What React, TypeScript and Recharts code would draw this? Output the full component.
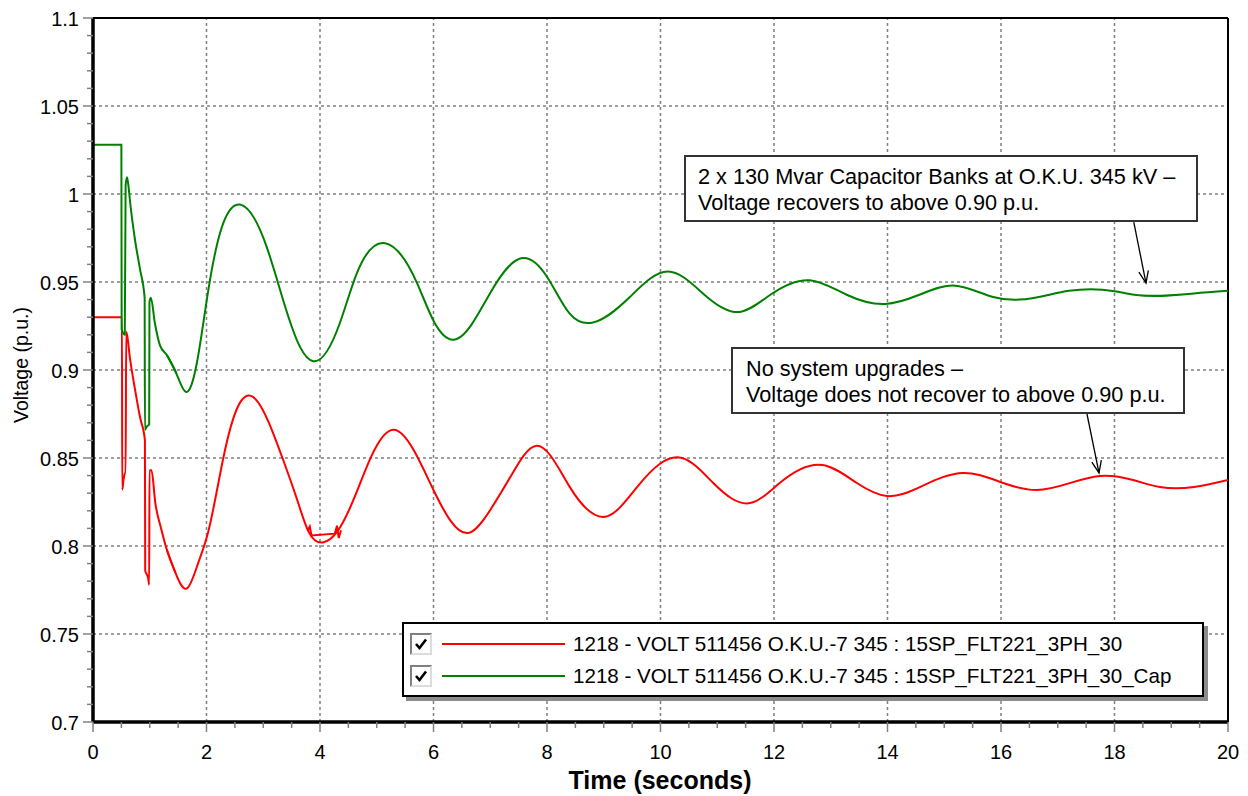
import React from "react";
import { LineChart, Line, XAxis, YAxis, ReferenceLine } from "recharts";

// time (s) / voltage (p.u.)
// no upgrades case: fault transient, then the swing, plus two small wiggles near 4 s
const baseFaultTime = [0, 0.51, 0.515, 0.54, 0.565, 0.575, 0.585, 0.6, 0.65, 0.74, 0.83, 0.915, 0.92, 0.97, 0.99, 0.995, 1.03, 1.1, 1.2, 1.3, 1.45];
const baseFaultVolt = [0.93, 0.93, 0.832, 0.838, 0.8415, 0.8415, 0.9216, 0.92, 0.907, 0.889, 0.873, 0.86, 0.786, 0.782, 0.778, 0.843, 0.843, 0.824, 0.81, 0.798, 0.785];
const baseSwingTime = [1.3, 1.45, 1.66, 1.85, 2.03, 2.3, 2.55, 2.82, 3.1, 3.35, 3.6, 3.8, 4.05, 4.3, 4.6, 4.9, 5.29, 5.65, 6.0, 6.61, 7.0, 7.35, 7.82, 8.4, 9.07, 9.59, 10.38, 10.93, 11.58, 12.1, 12.86, 13.46, 13.99, 14.57, 15.33, 16.04, 16.63, 17.74, 18.33, 18.8, 19.4, 20];
const baseSwingVolt = [0.798, 0.785, 0.776, 0.79, 0.808, 0.8506, 0.879, 0.8847, 0.87, 0.849, 0.826, 0.808, 0.802, 0.808, 0.827, 0.8506, 0.866, 0.8545, 0.8318, 0.8074, 0.8205, 0.839, 0.857, 0.8336, 0.817, 0.8336, 0.85, 0.8358, 0.8244, 0.8358, 0.846, 0.8358, 0.8284, 0.8335, 0.8415, 0.8358, 0.8318, 0.8398, 0.8375, 0.8335, 0.8335, 0.8375];
const baseWiggleTime = [3.78, 3.82, 3.85, 4.26, 4.3, 4.33, 4.37];
const baseWiggleVolt = [0.8085, 0.811, 0.806, 0.807, 0.8115, 0.8045, 0.809];

// 2 x 130 Mvar capacitor case
const capFaultTime = [0, 0.5, 0.505, 0.56, 0.575, 0.6, 0.63, 0.65, 0.74, 0.83, 0.91, 0.915, 0.95, 0.99, 0.995, 1.02, 1.09, 1.18, 1.3, 1.47];
const capFaultVolt = [1.028, 1.028, 0.923, 0.92, 1.005, 1.0095, 1.003, 0.9966, 0.974, 0.957, 0.941, 0.866, 0.868, 0.869, 0.9386, 0.941, 0.9267, 0.914, 0.9085, 0.898];
const capSwingTime = [1.3, 1.47, 1.64, 1.83, 2.03, 2.24, 2.59, 3.06, 3.35, 3.65, 3.88, 4.35, 4.65, 5.15, 5.71, 6.0, 6.41, 7.0, 7.56, 8.0, 8.4, 8.81, 9.46, 10.13, 10.82, 11.4, 11.93, 12.63, 13.29, 13.96, 14.55, 15.15, 15.86, 16.33, 17.2, 18.0, 18.35, 19.4, 20];
const capSwingVolt = [0.9085, 0.898, 0.8875, 0.904, 0.945, 0.978, 0.994, 0.97, 0.9398, 0.913, 0.905, 0.9267, 0.955, 0.972, 0.9494, 0.928, 0.9176, 0.9438, 0.9636, 0.953, 0.932, 0.927, 0.9415, 0.956, 0.9415, 0.933, 0.9426, 0.951, 0.9426, 0.9375, 0.9426, 0.948, 0.9415, 0.94, 0.945, 0.9448, 0.9428, 0.9435, 0.945];

const xMajor = [0, 2, 4, 6, 8, 10, 12, 14, 16, 18, 20];
const yMajor = [0.7, 0.75, 0.8, 0.85, 0.9, 0.95, 1, 1.05, 1.1];

const seriesNames = [
  "1218 - VOLT 511456 O.K.U.-7 345 : 15SP_FLT221_3PH_30",
  "1218 - VOLT 511456 O.K.U.-7 345 : 15SP_FLT221_3PH_30_Cap",
];
const seriesColors = ["#ff0000", "#008000"];

const noteCap = ["2 x 130 Mvar Capacitor Banks at O.K.U. 345 kV \u2013", "Voltage recovers to above 0.90 p.u."];
const noteBase = ["No system upgrades \u2013", "Voltage does not recover to above 0.90 p.u."];

const zip = (ts: number[], vs: number[]) => ts.map((t, i) => ({ t, v: vs[i] }));
const baseFault = zip(baseFaultTime, baseFaultVolt);
const baseSwing = zip(baseSwingTime, baseSwingVolt);
const baseWiggle = zip(baseWiggleTime, baseWiggleVolt);
const capFault = zip(capFaultTime, capFaultVolt);
const capSwing = zip(capSwingTime, capSwingVolt);

// minor ticks between the majors
const withMinors = (majors: number[], parts: number) => {
  const out: number[] = [];
  for (let i = 0; i < majors.length - 1; i++) {
    const step = (majors[i + 1] - majors[i]) / parts;
    for (let k = 0; k < parts; k++) out.push(+(majors[i] + k * step).toFixed(4));
  }
  out.push(majors[majors.length - 1]);
  return out;
};
const xTicks = withMinors(xMajor, 4);
const yTicks = withMinors(yMajor, 5);
const isMajor = (list: number[], v: number) => list.some((m) => Math.abs(m - v) < 1e-6);

// natural cubic spline of y as a function of x (d3's "natural" is parametric and
// kinks when the samples are unevenly spaced)
const curveSplineX = (context: any) => {
  let xs: number[] = [];
  let ys: number[] = [];
  return {
    areaStart() {},
    areaEnd() {},
    lineStart() {
      xs = [];
      ys = [];
    },
    point(x: number, y: number) {
      xs.push(+x);
      ys.push(+y);
    },
    lineEnd() {
      const n = xs.length;
      if (!n) return;
      context.moveTo(xs[0], ys[0]);
      if (n < 3) {
        for (let i = 1; i < n; i++) context.lineTo(xs[i], ys[i]);
        return;
      }
      const h: number[] = [];
      for (let i = 0; i < n - 1; i++) h[i] = xs[i + 1] - xs[i];
      const M = new Array(n).fill(0);
      const a: number[] = [], b: number[] = [], c: number[] = [], r: number[] = [];
      for (let i = 1; i < n - 1; i++) {
        a[i] = h[i - 1];
        b[i] = 2 * (h[i - 1] + h[i]);
        c[i] = h[i];
        r[i] = 6 * ((ys[i + 1] - ys[i]) / h[i] - (ys[i] - ys[i - 1]) / h[i - 1]);
      }
      for (let i = 2; i < n - 1; i++) {
        const m = a[i] / b[i - 1];
        b[i] -= m * c[i - 1];
        r[i] -= m * r[i - 1];
      }
      M[n - 2] = r[n - 2] / b[n - 2];
      for (let i = n - 3; i >= 1; i--) M[i] = (r[i] - c[i] * M[i + 1]) / b[i];
      for (let i = 0; i < n - 1; i++) {
        const s = (ys[i + 1] - ys[i]) / h[i];
        const d0 = s - (h[i] * (2 * M[i] + M[i + 1])) / 6;
        const d1 = s + (h[i] * (M[i] + 2 * M[i + 1])) / 6;
        context.bezierCurveTo(
          xs[i] + h[i] / 3,
          ys[i] + (d0 * h[i]) / 3,
          xs[i + 1] - h[i] / 3,
          ys[i + 1] - (d1 * h[i]) / 3,
          xs[i + 1],
          ys[i + 1]
        );
      }
    },
  };
};

const FONT = "'Liberation Sans', Arial, sans-serif";

const XTick = (p: any) => {
  const { x, y, payload } = p;
  const major = isMajor(xMajor, payload.value);
  return (
    <g>
      <line x1={x} x2={x} y1={y} y2={y + (major ? 10 : 6)} stroke="#808080" strokeWidth={1.5} />
      {major && (
        <text x={x} y={y + 30} textAnchor="middle" dominantBaseline="central" fontSize={20} fontFamily={FONT} fill="#000">
          {String(payload.value)}
        </text>
      )}
    </g>
  );
};

const YTick = (p: any) => {
  const { x, y, payload } = p;
  const major = isMajor(yMajor, payload.value);
  return (
    <g>
      <line x1={x - (major ? 10 : 6)} x2={x} y1={y} y2={y} stroke="#808080" strokeWidth={1.5} />
      {major && (
        <text x={x - 14} y={y + 1} textAnchor="end" dominantBaseline="central" fontSize={20} fontFamily={FONT} fill="#000">
          {String(payload.value)}
        </text>
      )}
    </g>
  );
};

const Arrow = (p: any) => {
  const { x1, y1, x2, y2 } = p;
  if (x1 == null || x2 == null) return null;
  const a = Math.atan2(y2 - y1, x2 - x1);
  const h = 13;
  const w = 0.38;
  const pts = `${x2 - h * Math.cos(a - w)},${y2 - h * Math.sin(a - w)} ${x2},${y2} ${x2 - h * Math.cos(a + w)},${y2 - h * Math.sin(a + w)}`;
  return (
    <g>
      <line x1={x1} y1={y1} x2={x2} y2={y2} stroke="#000" strokeWidth={1.3} />
      <polyline points={pts} fill="none" stroke="#000" strokeWidth={1.3} />
    </g>
  );
};

const CheckBox = () => (
  <div
    style={{
      width: 18,
      height: 18,
      borderTop: "2px solid #808080",
      borderLeft: "2px solid #808080",
      borderBottom: "2px solid #dcdcdc",
      borderRight: "2px solid #dcdcdc",
      background: "#fff",
      display: "flex",
      alignItems: "center",
      justifyContent: "center",
    }}
  >
    <svg width="14" height="14" viewBox="0 0 14 14">
      <polyline points="2,7 5.5,11 12,2.5" fill="none" stroke="#000" strokeWidth={2.6} />
    </svg>
  </div>
);

const Note = ({ lines, left, top, width, padLeft, padTop }: any) => (
  <div
    style={{
      position: "absolute",
      left,
      top,
      width,
      height: 67,
      boxSizing: "border-box",
      border: "2px solid #333",
      background: "#fff",
      fontFamily: FONT,
      fontSize: 21.7,
      lineHeight: "26px",
      paddingLeft: padLeft,
      paddingTop: padTop,
      color: "#000",
      whiteSpace: "nowrap",
    }}
  >
    {lines.map((l: string) => (
      <div key={l}>{l}</div>
    ))}
  </div>
);

const lineProps = { dataKey: "v", strokeWidth: 2, dot: false, activeDot: false, isAnimationActive: false } as const;

export default function App() {
  return (
    <div style={{ position: "absolute", left: 0, top: 0, width: 1248, height: 796, background: "#fff" }}>
      <LineChart width={1248} height={796} margin={{ top: 18, right: 20, bottom: 0, left: 0 }}>
        <XAxis
          dataKey="t"
          type="number"
          domain={[0, 20]}
          ticks={xTicks}
          interval={0}
          tickSize={0}
          tickMargin={0}
          tickLine={false}
          tick={XTick}
          height={74}
          axisLine={{ stroke: "#000", strokeWidth: 3.5 }}
          allowDataOverflow
          label={() => (
            <text x={660} y={789} textAnchor="middle" fontSize={25} fontWeight="bold" fontFamily={FONT} fill="#000">
              Time (seconds)
            </text>
          )}
        />
        <YAxis
          type="number"
          domain={[0.7, 1.1]}
          ticks={yTicks}
          interval={0}
          tickSize={0}
          tickMargin={0}
          tickLine={false}
          tick={YTick}
          width={93}
          axisLine={{ stroke: "#000", strokeWidth: 3.5 }}
          allowDataOverflow
          label={() => (
            <text x={21} y={365} transform="rotate(-90 21 365)" textAnchor="middle" dominantBaseline="central" fontSize={19.5} fontFamily={FONT} fill="#000">
              Voltage (p.u.)
            </text>
          )}
        />
        {xMajor.slice(1, -1).map((v) => (
          <ReferenceLine key={"gx" + v} x={v} stroke="#808080" strokeWidth={1.5} strokeDasharray="3 3" />
        ))}
        {yMajor.slice(1, -1).map((v) => (
          <ReferenceLine key={"gy" + v} y={v} stroke="#808080" strokeWidth={1.5} strokeDasharray="3 3" />
        ))}
        <ReferenceLine y={1.1} stroke="#000" strokeWidth={2} />
        <ReferenceLine x={20} stroke="#000" strokeWidth={2} />
        <Line data={baseFault} type="monotone" stroke={seriesColors[0]} {...lineProps} />
        <Line data={baseSwing} type={curveSplineX as any} stroke={seriesColors[0]} {...lineProps} />
        <Line data={baseWiggle} type="linear" stroke={seriesColors[0]} {...lineProps} />
        <Line data={capFault} type="monotone" stroke={seriesColors[1]} {...lineProps} />
        <Line data={capSwing} type={curveSplineX as any} stroke={seriesColors[1]} {...lineProps} />
        <ReferenceLine segment={[{ x: 18.34, y: 0.984 }, { x: 18.555, y: 0.9494 }]} shape={Arrow} />
        <ReferenceLine segment={[{ x: 17.515, y: 0.875 }, { x: 17.727, y: 0.8415 }]} shape={Arrow} />
      </LineChart>

      <Note lines={noteCap} left={684} top={155} width={514} padLeft={12} padTop={7} />
      <Note lines={noteBase} left={731} top={347} width={454} padLeft={13} padTop={7} />

      <div
        style={{
          position: "absolute",
          left: 402,
          top: 622,
          width: 802,
          height: 75,
          boxSizing: "border-box",
          border: "2px solid #000",
          background: "#fff",
          boxShadow: "4px 4px 0 #8c8c8c",
          fontFamily: FONT,
          fontSize: 20.6,
        }}
      >
        {seriesNames.map((name, i) => (
          <div key={name} style={{ position: "absolute", left: 6, top: 9 + i * 32, height: 22, display: "flex", alignItems: "center" }}>
            <CheckBox />
            <div style={{ width: 123, height: 2, background: seriesColors[i], marginLeft: 10 }} />
            <span style={{ marginLeft: 8, whiteSpace: "nowrap" }}>{name}</span>
          </div>
        ))}
      </div>
    </div>
  );
}
